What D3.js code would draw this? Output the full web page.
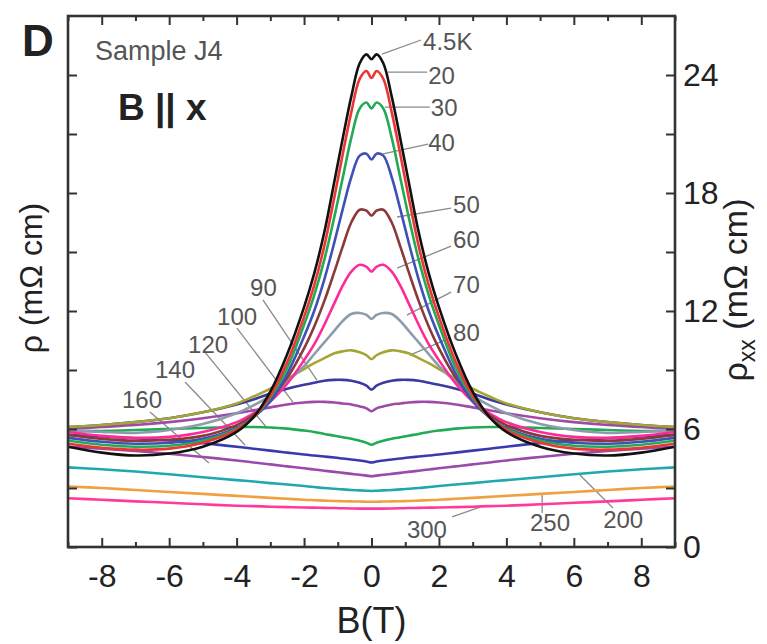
<!DOCTYPE html>
<html>
<head>
    <meta charset="utf-8">
    <title>Sample J4 magnetoresistance, B || x</title>
    <script src="https://d3js.org/d3.v7.min.js"></script>
    <style>
        body { margin: 0; background: #fff; }
        svg text { font-family: "Liberation Sans", Arial, sans-serif; }
        .axis path { display: none; }
        .axis line { stroke: #333; stroke-width: 2; }
        .axis text { font-size: 32px; fill: #222; }
        .lbl { font-size: 24px; fill: #555; }
        .leader { stroke: #8a8a8a; stroke-width: 1.3; fill: none; }
    </style>
</head>
<body>
    <div id="chart"></div>
    <script>
        // field points (T); the sweep is symmetric, negative side mirrors these
        var fieldB = [0, 0.15, 0.35, 0.6, 0.85, 1.1, 1.4, 1.7, 2.0, 2.5, 3.0, 3.5, 4.0, 5.0, 6.0, 7.0, 8.0, 9.0];

        var temps = ["4.5K", "20", "30", "40", "50", "60", "70", "80", "90", "100", "120", "140", "160", "200", "250", "300"];
        var colors = ["#111111", "#ee3535", "#22aa55", "#4050b8", "#8b3a3a", "#ff2a9a", "#8c9cab", "#a5a535",
                      "#3a3a9f", "#a04aa8", "#22aa55", "#3a3ab0", "#9a4aaa", "#20a8b0", "#f0a040", "#ff3a9a"];

        // resistivity (mOhm cm) at each fieldB value
        var rho4 = [24.8, 25.05, 24.6, 22.9, 20.8, 18.6, 16.0, 13.9, 12.2, 9.8, 7.9, 6.6, 5.85, 5.1, 4.75, 4.65, 4.8, 5.1];
        var rho20 = [23.85, 24.2, 23.8, 22.1, 20.0, 17.8, 15.3, 13.3, 11.7, 9.4, 7.7, 6.6, 5.95, 5.3, 5.0, 4.95, 5.05, 5.25];
        var rho30 = [22.3, 22.6, 22.3, 20.8, 18.8, 16.8, 14.6, 12.8, 11.3, 9.1, 7.6, 6.6, 6.0, 5.4, 5.15, 5.1, 5.2, 5.4];
        var rho40 = [19.7, 20.0, 19.9, 18.8, 17.2, 15.5, 13.6, 12.0, 10.7, 8.8, 7.4, 6.6, 6.05, 5.5, 5.3, 5.25, 5.35, 5.55];
        var rho50 = [16.85, 17.1, 17.15, 16.5, 15.3, 14.0, 12.5, 11.2, 10.1, 8.6, 7.5, 6.7, 6.2, 5.65, 5.45, 5.4, 5.5, 5.7];
        var rho60 = [14.0, 14.25, 14.35, 14.0, 13.3, 12.4, 11.3, 10.3, 9.5, 8.3, 7.4, 6.8, 6.35, 5.85, 5.6, 5.55, 5.65, 5.85];
        var rho70 = [11.6, 11.8, 11.9, 11.85, 11.5, 11.0, 10.4, 9.8, 9.2, 8.4, 7.7, 7.2, 6.8, 6.25, 5.95, 5.8, 5.85, 5.95];
        var rho80 = [9.55, 9.75, 9.9, 10.0, 9.95, 9.85, 9.6, 9.35, 9.05, 8.55, 8.05, 7.65, 7.3, 6.85, 6.55, 6.35, 6.2, 6.1];
        var rho90 = [8.0, 8.2, 8.35, 8.45, 8.5, 8.5, 8.45, 8.35, 8.25, 8.05, 7.8, 7.5, 7.25, 6.85, 6.55, 6.35, 6.2, 6.1];
        var rho100 = [6.9, 7.05, 7.15, 7.25, 7.3, 7.35, 7.38, 7.38, 7.35, 7.25, 7.1, 6.95, 6.8, 6.55, 6.35, 6.2, 6.1, 6.0];
        var rho120 = [5.2, 5.3, 5.4, 5.5, 5.58, 5.66, 5.75, 5.85, 5.92, 6.02, 6.08, 6.1, 6.1, 6.05, 6.0, 5.95, 5.9, 5.88];
        var rho140 = [4.3, 4.35, 4.4, 4.45, 4.5, 4.55, 4.6, 4.65, 4.7, 4.8, 4.9, 5.0, 5.1, 5.28, 5.42, 5.53, 5.62, 5.7];
        var rho160 = [3.6, 3.63, 3.67, 3.72, 3.77, 3.82, 3.88, 3.94, 4.0, 4.1, 4.2, 4.3, 4.4, 4.58, 4.74, 4.88, 5.0, 5.1];
        var rho200 = [2.85, 2.86, 2.88, 2.9, 2.93, 2.96, 3.0, 3.05, 3.1, 3.18, 3.25, 3.33, 3.4, 3.55, 3.7, 3.84, 3.95, 4.05];
        var rho250 = [2.3, 2.3, 2.31, 2.32, 2.33, 2.34, 2.36, 2.38, 2.4, 2.45, 2.5, 2.55, 2.6, 2.7, 2.8, 2.9, 3.0, 3.08];
        var rho300 = [1.95, 1.95, 1.95, 1.96, 1.97, 1.98, 1.99, 2.0, 2.01, 2.03, 2.05, 2.08, 2.1, 2.17, 2.25, 2.32, 2.4, 2.48];

        var rhoSeries = [rho4, rho20, rho30, rho40, rho50, rho60, rho70, rho80,
                         rho90, rho100, rho120, rho140, rho160, rho200, rho250, rho300];

        // curve labels: text anchor and leader line ends, in data units (B, rho)
        var labelPos = [[1.53, 25.72], [1.68, 23.95], [1.76, 22.32], [1.68, 20.54], [2.42, 17.39], [2.42, 15.61],
                        [2.42, 13.32], [2.42, 10.88], [-3.60, 13.17], [-4.58, 11.69], [-5.44, 10.27], [-6.42, 9.00],
                        [-7.40, 7.47], [6.87, 1.37], [4.70, 1.22], [1.05, 0.86]];
        var leaders = [[0.31, 25.06, 1.47, 25.78], [0.49, 24.15, 1.65, 24.15], [0.40, 22.37, 1.73, 22.37],
                       [0.34, 19.99, 1.68, 20.49], [0.76, 16.78, 2.36, 17.23], [0.76, 14.18, 2.36, 15.30],
                       [1.05, 11.79, 2.36, 12.96], [1.14, 9.76, 2.33, 10.63], [-3.22, 12.56, -1.62, 8.49],
                       [-3.99, 11.13, -2.33, 7.37], [-4.94, 9.91, -3.10, 6.05], [-5.53, 8.39, -3.75, 5.19],
                       [-6.57, 6.86, -4.82, 4.27], [7.16, 1.98, 6.18, 3.66], [5.06, 1.73, 5.06, 2.64],
                       [2.39, 1.53, 3.22, 2.03]];

        var xMajor = [-8, -6, -4, -2, 0, 2, 4, 6, 8];
        var xMinor = [-9, -7, -5, -3, -1, 1, 3, 5, 7, 9];
        var yMajor = [0, 6, 12, 18, 24];
        var yMinor = [3, 9, 15, 21];

        var width = 767, height = 644;
        var margin = {top: 16, right: 92, bottom: 97, left: 68};
        var innerW = width - margin.left - margin.right,
            innerH = height - margin.top - margin.bottom;

        var x = d3.scaleLinear().domain([-9, 9]).range([0, innerW]);
        var y = d3.scaleLinear().domain([0, 27]).range([innerH, 0]);

        var svg = d3.select("#chart").append("svg")
            .attr("width", width)
            .attr("height", height);

        svg.append("defs").append("clipPath").attr("id", "clip")
            .append("rect").attr("width", innerW).attr("height", innerH);

        var g = svg.append("g")
            .attr("transform", "translate(" + margin.left + "," + margin.top + ")");

        // mirror each half sweep onto negative fields
        var curves = rhoSeries.map(function(vals, i) {
            var pts = [];
            for (var k = fieldB.length - 1; k > 0; k--) pts.push([-fieldB[k], vals[k]]);
            for (var k = 0; k < fieldB.length; k++) pts.push([fieldB[k], vals[k]]);
            return {temp: temps[i], color: colors[i], pts: pts};
        });

        var line = d3.line()
            .x(function(d) { return x(d[0]); })
            .y(function(d) { return y(d[1]); })
            .curve(d3.curveCatmullRom.alpha(0.5));

        // leader lines
        g.selectAll(".leader")
            .data(leaders)
            .enter().append("line")
            .attr("class", "leader")
            .attr("x1", function(d) { return x(d[0]); })
            .attr("y1", function(d) { return y(d[1]); })
            .attr("x2", function(d) { return x(d[2]); })
            .attr("y2", function(d) { return y(d[3]); });

        g.append("g").attr("clip-path", "url(#clip)")
            .selectAll(".curve")
            .data(curves.slice().reverse())
            .enter().append("path")
            .attr("class", "curve")
            .attr("d", function(d) { return line(d.pts); })
            .attr("fill", "none")
            .attr("stroke", function(d) { return d.color; })
            .attr("stroke-width", 2.6);

        g.selectAll(".lbl")
            .data(labelPos)
            .enter().append("text")
            .attr("class", "lbl")
            .attr("x", function(d) { return x(d[0]); })
            .attr("y", function(d) { return y(d[1]); })
            .attr("dy", "0.35em")
            .text(function(d, i) { return temps[i]; });

        // axes, ticks pointing inward
        var fmt = function(d) { return String(d); };
        g.append("g").attr("class", "axis")
            .attr("transform", "translate(0," + innerH + ")")
            .call(d3.axisBottom(x).tickValues(xMajor).tickSize(-9).tickPadding(17).tickFormat(fmt));
        g.append("g").attr("class", "axis")
            .attr("transform", "translate(0," + innerH + ")")
            .call(d3.axisBottom(x).tickValues(xMinor).tickSize(-5).tickFormat(""));
        g.append("g").attr("class", "axis")
            .call(d3.axisTop(x).tickValues(xMajor).tickSize(-9).tickFormat(""));
        g.append("g").attr("class", "axis")
            .call(d3.axisTop(x).tickValues(xMinor).tickSize(-5).tickFormat(""));
        g.append("g").attr("class", "axis")
            .attr("transform", "translate(" + innerW + ",0)")
            .call(d3.axisRight(y).tickValues(yMajor).tickSize(-9).tickPadding(8).tickFormat(fmt));
        g.append("g").attr("class", "axis")
            .attr("transform", "translate(" + innerW + ",0)")
            .call(d3.axisRight(y).tickValues(yMinor).tickSize(-9).tickFormat(""));
        g.append("g").attr("class", "axis")
            .call(d3.axisLeft(y).tickValues(yMajor.concat(yMinor)).tickSize(-9).tickFormat(""));

        g.append("rect")
            .attr("width", innerW)
            .attr("height", innerH)
            .attr("fill", "none")
            .attr("stroke", "#333")
            .attr("stroke-width", 2.6);

        // titles and labels
        svg.append("text")
            .attr("x", 22).attr("y", 56)
            .style("font-size", "44px").style("font-weight", "bold").style("fill", "#222")
            .text("D");

        g.append("text")
            .attr("x", 27).attr("y", 44)
            .style("font-size", "27px").style("fill", "#555")
            .text("Sample J4");

        g.append("text")
            .attr("x", 50).attr("y", 104)
            .style("font-size", "37px").style("font-weight", "bold").style("fill", "#222")
            .text("B || x");

        svg.append("text")
            .attr("x", margin.left + innerW / 2)
            .attr("y", 633)
            .attr("text-anchor", "middle")
            .style("font-size", "36px").style("fill", "#222")
            .text("B(T)");

        svg.append("text")
            .attr("transform", "translate(42," + (margin.top + 262) + ") rotate(-90)")
            .attr("text-anchor", "middle")
            .style("font-size", "32px").style("fill", "#222")
            .text("\u03c1 (m\u03a9 cm)");

        var rl = svg.append("text")
            .attr("transform", "translate(747," + (margin.top + 274) + ") rotate(-90)")
            .attr("text-anchor", "middle")
            .style("font-size", "34px").style("fill", "#222");
        rl.append("tspan").text("\u03c1");
        rl.append("tspan").attr("dy", 8).style("font-size", "23px").text("xx");
        rl.append("tspan").attr("dy", -8).text(" (m\u03a9 cm)");
    </script>
</body>
</html>
